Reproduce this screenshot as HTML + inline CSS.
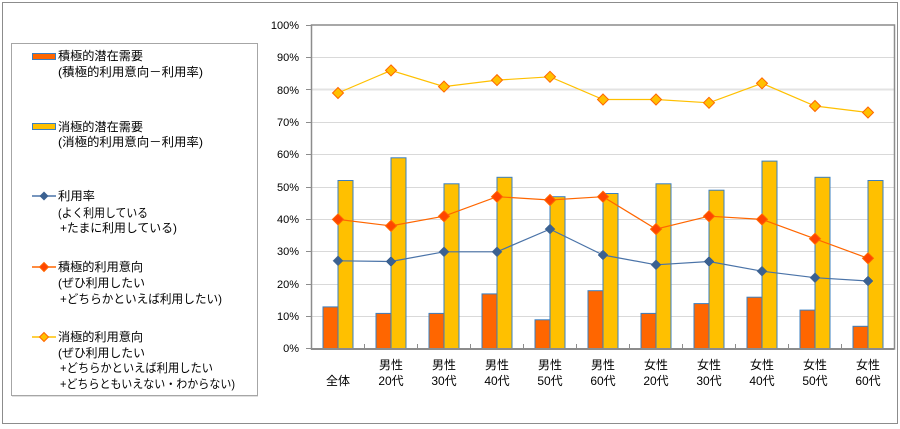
<!DOCTYPE html>
<html>
<head>
<meta charset="utf-8">
<style>
html,body{margin:0;padding:0;background:#fff;}
svg{display:block;}
text{font-family:"Liberation Sans","Noto Sans CJK JP",sans-serif;fill:#000;}
</style>
</head>
<body>
<svg width="900" height="429" viewBox="0 0 900 429" xmlns="http://www.w3.org/2000/svg">
<rect x="0" y="0" width="900" height="429" fill="#fff"/>
<rect x="2.5" y="2.5" width="895" height="421" fill="none" stroke="#8c8c8c" stroke-width="1"/>

<!-- Legend box -->
<rect x="11.5" y="43.5" width="246" height="352" fill="#fff" stroke="#a6a6a6" stroke-width="1"/>
<line x1="12" y1="396.5" x2="258" y2="396.5" stroke="#e0e0e0"/>

<!-- Legend entries -->
<rect x="32.5" y="53.5" width="23" height="6" fill="#FF6600" stroke="#3a7fc1" stroke-width="1"/>
<text font-size="12" x="58" y="60" textLength="85" lengthAdjust="spacingAndGlyphs">積極的潜在需要</text>
<text font-size="12" x="58" y="76" textLength="145" lengthAdjust="spacingAndGlyphs">(積極的利用意向－利用率)</text>

<rect x="32.5" y="123.5" width="23" height="6" fill="#FFC000" stroke="#3a7fc1" stroke-width="1"/>
<text font-size="12" x="58" y="131" textLength="85" lengthAdjust="spacingAndGlyphs">消極的潜在需要</text>
<text font-size="12" x="58" y="146" textLength="145" lengthAdjust="spacingAndGlyphs">(消極的利用意向－利用率)</text>

<line x1="32" y1="196" x2="56" y2="196" stroke="#4a73a8" stroke-width="1.5"/>
<polygon points="44,191.5 48.5,196 44,200.5 39.5,196" fill="#3b6191"/>
<text font-size="12" x="58" y="200" textLength="37" lengthAdjust="spacingAndGlyphs">利用率</text>
<text font-size="12" x="58" y="217" textLength="90" lengthAdjust="spacingAndGlyphs">(よく利用している</text>
<text font-size="12" x="60" y="232" textLength="117" lengthAdjust="spacingAndGlyphs">+たまに利用している)</text>

<line x1="32" y1="267" x2="56" y2="267" stroke="#FF6600" stroke-width="1.5"/>
<polygon points="44,262.5 48.5,267 44,271.5 39.5,267" fill="#FF4500" stroke="#FF6600" stroke-width="1"/>
<text font-size="12" x="58" y="271" textLength="85" lengthAdjust="spacingAndGlyphs">積極的利用意向</text>
<text font-size="12" x="58" y="287" textLength="87" lengthAdjust="spacingAndGlyphs">(ぜひ利用したい</text>
<text font-size="12" x="60" y="303" textLength="162" lengthAdjust="spacingAndGlyphs">+どちらかといえば利用したい)</text>

<line x1="32" y1="337" x2="56" y2="337" stroke="#FFC000" stroke-width="1.5"/>
<polygon points="44,332.5 48.5,337 44,341.5 39.5,337" fill="#FFC000" stroke="#FF6600" stroke-width="1"/>
<text font-size="12" x="58" y="341" textLength="85" lengthAdjust="spacingAndGlyphs">消極的利用意向</text>
<text font-size="12" x="58" y="357" textLength="87" lengthAdjust="spacingAndGlyphs">(ぜひ利用したい</text>
<text font-size="12" x="60" y="372" textLength="153" lengthAdjust="spacingAndGlyphs">+どちらかといえば利用したい</text>
<text font-size="12" x="60" y="388" textLength="175" lengthAdjust="spacingAndGlyphs">+どちらともいえない・わからない)</text>

<!-- Plot area -->
<g stroke="#d9d9d9" stroke-width="1">
<line x1="311.5" y1="57.5" x2="894" y2="57.5"/>
<line x1="311.5" y1="89.5" x2="894" y2="89.5" stroke-width="2" stroke="#e3e3e3"/>
<line x1="311.5" y1="122.5" x2="894" y2="122.5"/>
<line x1="311.5" y1="154.5" x2="894" y2="154.5"/>
<line x1="311.5" y1="187.5" x2="894" y2="187.5"/>
<line x1="311.5" y1="219.5" x2="894" y2="219.5"/>
<line x1="311.5" y1="251.5" x2="894" y2="251.5"/>
<line x1="311.5" y1="284.5" x2="894" y2="284.5"/>
<line x1="311.5" y1="316.5" x2="894" y2="316.5"/>
</g>
<rect x="311.5" y="25" width="583" height="324" fill="none" stroke="#8c8c8c" stroke-width="1.5"/>

<!-- Y ticks -->
<g stroke="#8c8c8c" stroke-width="1">
<line x1="306" y1="25.5" x2="311" y2="25.5"/>
<line x1="306" y1="57.5" x2="311" y2="57.5"/>
<line x1="306" y1="89.5" x2="311" y2="89.5"/>
<line x1="306" y1="122.5" x2="311" y2="122.5"/>
<line x1="306" y1="154.5" x2="311" y2="154.5"/>
<line x1="306" y1="187.5" x2="311" y2="187.5"/>
<line x1="306" y1="219.5" x2="311" y2="219.5"/>
<line x1="306" y1="251.5" x2="311" y2="251.5"/>
<line x1="306" y1="284.5" x2="311" y2="284.5"/>
<line x1="306" y1="316.5" x2="311" y2="316.5"/>
<line x1="306" y1="348.5" x2="311" y2="348.5"/>
</g>
<g font-size="11" text-anchor="end">
<text x="299" y="29">100%</text>
<text x="299" y="61">90%</text>
<text x="299" y="94">80%</text>
<text x="299" y="126">70%</text>
<text x="299" y="158">60%</text>
<text x="299" y="191">50%</text>
<text x="299" y="223">40%</text>
<text x="299" y="255">30%</text>
<text x="299" y="288">20%</text>
<text x="299" y="320">10%</text>
<text x="299" y="352">0%</text>
</g>

<!-- Bars -->
<g stroke="#3a7fc1" stroke-width="1">
<rect x="323" y="306.9" width="15" height="42.1" fill="#FF6600"/>
<rect x="376" y="313.4" width="15" height="35.6" fill="#FF6600"/>
<rect x="429" y="313.4" width="15" height="35.6" fill="#FF6600"/>
<rect x="482" y="293.9" width="15" height="55.1" fill="#FF6600"/>
<rect x="535" y="319.8" width="15" height="29.2" fill="#FF6600"/>
<rect x="588" y="290.7" width="15" height="58.3" fill="#FF6600"/>
<rect x="641" y="313.4" width="15" height="35.6" fill="#FF6600"/>
<rect x="694" y="303.6" width="15" height="45.4" fill="#FF6600"/>
<rect x="747" y="297.2" width="15" height="51.8" fill="#FF6600"/>
<rect x="800" y="310.1" width="15" height="38.9" fill="#FF6600"/>
<rect x="853" y="326.3" width="15" height="22.7" fill="#FF6600"/>
<rect x="338" y="180.5" width="15" height="168.5" fill="#FFC000"/>
<rect x="391" y="157.8" width="15" height="191.2" fill="#FFC000"/>
<rect x="444" y="183.8" width="15" height="165.2" fill="#FFC000"/>
<rect x="497" y="177.3" width="15" height="171.7" fill="#FFC000"/>
<rect x="550" y="196.7" width="15" height="152.3" fill="#FFC000"/>
<rect x="603" y="193.5" width="15" height="155.5" fill="#FFC000"/>
<rect x="656" y="183.8" width="15" height="165.2" fill="#FFC000"/>
<rect x="709" y="190.2" width="15" height="158.8" fill="#FFC000"/>
<rect x="762" y="161.1" width="15" height="187.9" fill="#FFC000"/>
<rect x="815" y="177.3" width="15" height="171.7" fill="#FFC000"/>
<rect x="868" y="180.5" width="15" height="168.5" fill="#FFC000"/>
</g>

<!-- X axis -->
<line x1="311" y1="349" x2="894" y2="349" stroke="#8c8c8c" stroke-width="2"/>
<g stroke="#8c8c8c" stroke-width="1">
<line x1="364.5" y1="344" x2="364.5" y2="349"/>
<line x1="417.5" y1="344" x2="417.5" y2="349"/>
<line x1="470.5" y1="344" x2="470.5" y2="349"/>
<line x1="523.5" y1="344" x2="523.5" y2="349"/>
<line x1="576.5" y1="344" x2="576.5" y2="349"/>
<line x1="629.5" y1="344" x2="629.5" y2="349"/>
<line x1="682.5" y1="344" x2="682.5" y2="349"/>
<line x1="735.5" y1="344" x2="735.5" y2="349"/>
<line x1="788.5" y1="344" x2="788.5" y2="349"/>
<line x1="841.5" y1="344" x2="841.5" y2="349"/>
</g>

<!-- Lines -->
<polyline fill="none" stroke="#FFC000" stroke-width="1.2" points="338,93 391,70.4 444,86.6 497,80.1 550,76.8 603,99.5 656,99.5 709,102.8 762,83.3 815,106 868,112.5"/>
<polyline fill="none" stroke="#FF6600" stroke-width="1.2" points="338,219.4 391,225.9 444,216.2 497,196.7 550,200 603,196.7 656,229.1 709,216.2 762,219.4 815,238.8 868,258.3"/>
<polyline fill="none" stroke="#4a73a8" stroke-width="1.2" points="338,260.8 391,261.5 444,251.8 497,251.8 550,229.1 603,255 656,264.8 709,261.5 762,271.2 815,277.7 868,281"/>

<!-- Markers -->
<g fill="#FFC000" stroke="#FF6600" stroke-width="1">
<polygon points="338,87.5 343.5,93 338,98.5 332.5,93"/>
<polygon points="391,64.9 396.5,70.4 391,75.9 385.5,70.4"/>
<polygon points="444,81.1 449.5,86.6 444,92.1 438.5,86.6"/>
<polygon points="497,74.6 502.5,80.1 497,85.6 491.5,80.1"/>
<polygon points="550,71.3 555.5,76.8 550,82.3 544.5,76.8"/>
<polygon points="603,94 608.5,99.5 603,105 597.5,99.5"/>
<polygon points="656,94 661.5,99.5 656,105 650.5,99.5"/>
<polygon points="709,97.3 714.5,102.8 709,108.3 703.5,102.8"/>
<polygon points="762,77.8 767.5,83.3 762,88.8 756.5,83.3"/>
<polygon points="815,100.5 820.5,106 815,111.5 809.5,106"/>
<polygon points="868,107 873.5,112.5 868,118 862.5,112.5"/>
</g>
<g fill="#FF4500" stroke="#FF6600" stroke-width="1">
<polygon points="338,213.9 343.5,219.4 338,224.9 332.5,219.4"/>
<polygon points="391,220.4 396.5,225.9 391,231.4 385.5,225.9"/>
<polygon points="444,210.7 449.5,216.2 444,221.7 438.5,216.2"/>
<polygon points="497,191.2 502.5,196.7 497,202.2 491.5,196.7"/>
<polygon points="550,194.5 555.5,200 550,205.5 544.5,200"/>
<polygon points="603,191.2 608.5,196.7 603,202.2 597.5,196.7"/>
<polygon points="656,223.6 661.5,229.1 656,234.6 650.5,229.1"/>
<polygon points="709,210.7 714.5,216.2 709,221.7 703.5,216.2"/>
<polygon points="762,213.9 767.5,219.4 762,224.9 756.5,219.4"/>
<polygon points="815,233.3 820.5,238.8 815,244.3 809.5,238.8"/>
<polygon points="868,252.8 873.5,258.3 868,263.8 862.5,258.3"/>
</g>
<g fill="#3b6191" stroke="#3b6191" stroke-width="0.5">
<polygon points="338,255.8 343,260.8 338,265.8 333,260.8"/>
<polygon points="391,256.5 396,261.5 391,266.5 386,261.5"/>
<polygon points="444,246.8 449,251.8 444,256.8 439,251.8"/>
<polygon points="497,246.8 502,251.8 497,256.8 492,251.8"/>
<polygon points="550,224.1 555,229.1 550,234.1 545,229.1"/>
<polygon points="603,250 608,255 603,260 598,255"/>
<polygon points="656,259.8 661,264.8 656,269.8 651,264.8"/>
<polygon points="709,256.5 714,261.5 709,266.5 704,261.5"/>
<polygon points="762,266.2 767,271.2 762,276.2 757,271.2"/>
<polygon points="815,272.7 820,277.7 815,282.7 810,277.7"/>
<polygon points="868,276 873,281 868,286 863,281"/>
</g>

<!-- X labels -->
<g font-size="12" text-anchor="middle">
<text x="338" y="385">全体</text>
<text x="391" y="369">男性</text><text x="391" y="385">20代</text>
<text x="444" y="369">男性</text><text x="444" y="385">30代</text>
<text x="497" y="369">男性</text><text x="497" y="385">40代</text>
<text x="550" y="369">男性</text><text x="550" y="385">50代</text>
<text x="603" y="369">男性</text><text x="603" y="385">60代</text>
<text x="656" y="369">女性</text><text x="656" y="385">20代</text>
<text x="709" y="369">女性</text><text x="709" y="385">30代</text>
<text x="762" y="369">女性</text><text x="762" y="385">40代</text>
<text x="815" y="369">女性</text><text x="815" y="385">50代</text>
<text x="868" y="369">女性</text><text x="868" y="385">60代</text>
</g>
</svg>
</body>
</html>
